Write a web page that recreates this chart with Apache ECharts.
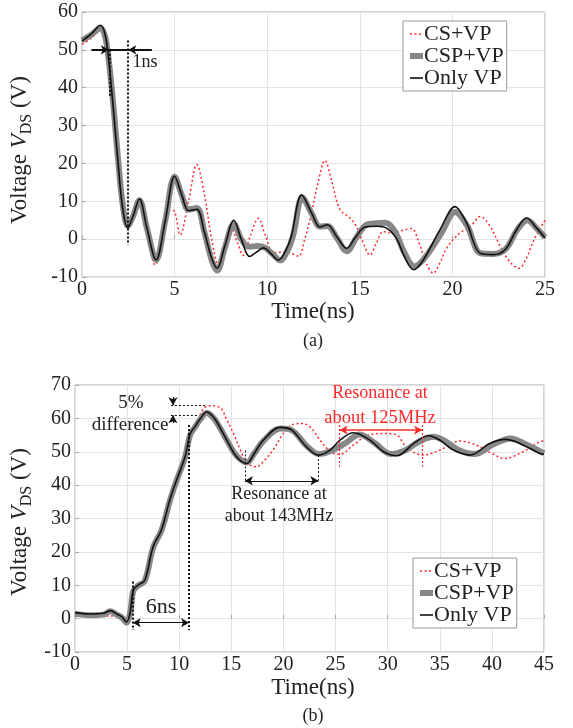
<!DOCTYPE html>
<html><head><meta charset="utf-8">
<script src="https://cdn.jsdelivr.net/npm/echarts@6/dist/echarts.min.js"></script>
<style>html,body{margin:0;padding:0;background:#fff}#c{width:573px;height:728px}</style>
</head><body><div id="c"></div><script>
// Drain-source voltage waveforms: (a) turn-off, (b) turn-on
const seriesNames = ['CS+VP', 'CSP+VP', 'Only VP'];

// (a) turn-off, [time ns, voltage V]
const offCS = [[0,51.5],[0.5,53],[1.05,55.3],[1.3,53],[1.5,46],[1.75,33],[2.0,19],[2.25,8],[2.5,3.5],[2.75,6],[3.1,10],[3.5,2],[3.95,-6.8],[4.4,0.5],[4.75,7.7],[5.0,7.3],[5.3,1.1],[5.75,10],[6.2,19.7],[6.6,12],[7.0,0],[7.35,-6.5],[7.7,-1],[8.05,3],[8.4,-1],[8.7,-4.3],[9.1,1],[9.52,5.5],[9.9,1],[10.35,-3.6],[10.9,-3.4],[11.3,-3.8],[11.7,-4.5],[12.0,-0.5],[12.35,6],[12.75,15],[13.12,20.8],[13.5,15],[13.93,7.8],[14.47,5.6],[14.8,3.5],[15.1,0],[15.55,-4.2],[15.9,-1],[16.27,2],[16.8,1.5],[17.3,2.3],[17.8,2.8],[18.2,-1],[18.6,-6.5],[18.97,-9],[19.3,-6.5],[19.7,-2.3],[20.4,1.6],[21.0,3.5],[21.5,6],[22.03,3.4],[22.6,-2],[23.1,-6],[23.6,-7.7],[24.0,-5],[24.4,-0.2],[25,5]];
const offCSP = [[0,52.5],[0.5,54],[1.0,55.8],[1.25,53.5],[1.45,47],[1.7,35],[1.95,21],[2.2,9],[2.47,3.5],[2.75,6],[3.1,10.3],[3.5,3],[4.0,-5.5],[4.5,5],[5.0,16.5],[5.4,11.5],[5.75,7.8],[6.2,8.2],[6.6,2],[7.0,-5.5],[7.3,-8.3],[7.7,-2.5],[8.2,4],[8.6,0],[9.0,-2],[9.5,-1.8],[9.9,-2.3],[10.3,-4],[10.7,-5.6],[11.1,-3],[11.4,1],[11.9,11],[12.4,6.8],[12.85,3.3],[13.25,3.5],[13.75,0.4],[14.3,-3.2],[14.8,0.3],[15.3,3.6],[15.9,4.2],[16.4,4.3],[16.9,2],[17.4,-3.5],[17.95,-7.2],[18.5,-5],[19.4,1.5],[20.15,7.2],[20.8,3.5],[21.5,-3.7],[22.2,-3.9],[22.9,-2.5],[23.5,2.5],[24.05,5],[24.6,2.6],[25,0.5]];
const offVP = [[0,52.3],[0.5,54.2],[1.0,56.5],[1.25,54],[1.45,47],[1.7,34],[1.95,20],[2.2,8],[2.47,3],[2.75,6],[3.1,10.6],[3.5,3],[4.0,-5.5],[4.5,5],[5.0,16.6],[5.4,11.5],[5.75,7.5],[6.2,7.9],[6.6,2],[7.0,-5],[7.3,-7.7],[7.7,-2],[8.2,5],[8.6,0],[9.05,-4.6],[9.4,-3.5],[9.8,-2.3],[10.2,-3.8],[10.6,-5.5],[11.0,-3],[11.3,0.7],[11.86,11.7],[12.4,6.9],[12.85,3.2],[13.25,3.8],[13.75,0.7],[14.29,-2.4],[14.74,0.3],[15.28,3.2],[15.91,3.4],[16.45,2.9],[17.0,0],[17.4,-4.5],[17.9,-8.1],[18.43,-5.5],[19.33,2.5],[20.14,8.6],[20.77,4.2],[21.49,-3.7],[22.2,-4.1],[22.84,-2.8],[23.47,2.5],[24.0,5.6],[24.55,2.9],[25,0.3]];

// (b) turn-on, [time ns, voltage V]
const onCS = [[0,0.8],[1.5,0.5],[3.0,0.8],[4.0,0.8],[4.6,0.3],[5.0,-0.5],[5.4,2],[5.7,8],[6.2,10],[6.9,11.5],[7.7,21.5],[8.5,26.5],[9.3,35.5],[9.9,41.5],[10.7,48.5],[11.2,55.5],[11.8,59.5],[12.4,63.2],[13.2,63.8],[14.0,63],[14.5,60],[15.2,55.5],[16.15,48.6],[16.8,46],[17.4,45.5],[18.2,47.5],[19.0,50.5],[20.0,55.5],[20.8,58],[21.8,58.5],[22.6,57.3],[23.5,53.5],[24.5,50],[25.4,49.2],[26.7,52],[28.0,54.8],[29.6,55.5],[30.9,55],[31.5,52.5],[32.4,50],[33.4,49],[35.0,50.5],[36.9,53.2],[38.5,52],[40.0,49.5],[41.2,48],[43.0,50],[44.6,53],[45,53.2]];
const onCSP = [[0,1.5],[1.4,1.0],[2.7,1.2],[3.4,2.2],[4.0,1.2],[4.5,0.3],[4.95,-1.2],[5.3,2],[5.6,8.3],[6.1,10],[6.7,11.3],[7.5,21.3],[8.3,26.5],[9.1,35.3],[9.76,41.5],[10.56,48.3],[11.04,55],[11.5,57.3],[12.0,59.6],[12.64,61.6],[13.1,60.8],[13.6,58.8],[14.56,53.5],[15.5,48.8],[16.5,46.8],[17.2,49.5],[18.1,53.3],[19.7,57],[20.8,56.5],[22.2,51.8],[23.4,49.3],[24.6,50.3],[25.9,52.5],[27.3,55.2],[28.8,52.5],[30.3,49.3],[31.6,50.3],[33.0,53],[34.4,54.5],[35.6,53],[36.8,50.5],[38.3,49.3],[40.2,52.3],[41.8,54],[43.2,52.3],[45,49.5]];
const onVP = [[0,1.8],[1.4,1.4],[2.7,1.6],[3.4,2.4],[4.0,1.4],[4.5,0.5],[4.95,-1],[5.3,2],[5.6,8.6],[6.1,10.1],[6.7,11.5],[7.5,21.6],[8.3,26.6],[9.1,35.6],[9.76,41.6],[10.56,48.5],[11.04,55.3],[11.5,57.5],[12.0,59.8],[12.64,61.9],[13.1,61],[13.6,59],[14.56,53.5],[15.5,48.5],[16.48,46.5],[17.2,49.5],[18.07,53.5],[19.67,57.3],[20.8,56.5],[22.2,51.5],[23.35,49],[24.47,50.5],[25.43,53.5],[26.7,55.7],[28.3,53.5],[29.6,50],[30.9,48.8],[32.5,52.5],[33.9,54.8],[35.0,53.5],[36.3,50.5],[37.9,49],[39.8,52.5],[41.3,53.7],[42.7,52.5],[44.6,49.5],[45,49.3]];

// axis ranges and ticks
const offTimeMax = 25, onTimeMax = 45, timeStep = 5;
const offVMin = -10, offVMax = 60, onVMin = -10, onVMax = 70, vStep = 10;

const FONT = 'Liberation Serif';
const INK = '#222';
const RED = '#ff2a2a';
const GREY = '#878787';
const AXIS = '#a8a8a8';

function xAxis(gi, max) {
  return {
    type: 'value', gridIndex: gi, min: 0, max: max, interval: timeStep,
    axisLine: { show: false },
    axisTick: { inside: true, length: 4, lineStyle: { color: AXIS } },
    splitLine: { show: true, lineStyle: { color: '#e4e4e4', width: 1 } },
    axisLabel: { fontFamily: FONT, fontSize: 20, color: INK, margin: 3, showMinLabel: true, showMaxLabel: true }
  };
}
function yAxis(gi, min, max) {
  return {
    type: 'value', gridIndex: gi, min: min, max: max, interval: vStep,
    axisLine: { show: false },
    axisTick: { inside: true, length: 4, lineStyle: { color: AXIS } },
    splitLine: { show: true, lineStyle: { color: '#e4e4e4', width: 1 } },
    axisLabel: { fontFamily: FONT, fontSize: 20, color: INK, margin: 4, showMinLabel: true, showMaxLabel: true }
  };
}

function trio(gi, cs, csp, vp) {
  return [
    { name: seriesNames[0], type: 'line', xAxisIndex: gi, yAxisIndex: gi, data: cs, smooth: 0.35, showSymbol: false, symbol: 'none',
      lineStyle: { color: RED, width: 1.5, type: [2, 2.5] }, itemStyle: { color: RED }, z: 2 },
    { name: seriesNames[1], type: 'line', xAxisIndex: gi, yAxisIndex: gi, data: csp, smooth: 0.35, showSymbol: false, symbol: 'none',
      lineStyle: { color: GREY, width: 6 }, itemStyle: { color: GREY }, z: 3 },
    { name: seriesNames[2], type: 'line', xAxisIndex: gi, yAxisIndex: gi, data: vp, smooth: 0.35, showSymbol: false, symbol: 'none',
      lineStyle: { color: '#111', width: 1.6 }, itemStyle: { color: '#111' }, z: 4 }
  ];
}

// annotation segment helper: [t0,v0] -> [t1,v1]
function seg(a, b, style, startSym, endSym) {
  return [
    { coord: a, symbol: startSym || 'none', lineStyle: style },
    { coord: b, symbol: endSym || 'none' }
  ];
}
const dotBlack = { color: '#111', width: 2, type: [2, 2] };
const dotThin = { color: '#111', width: 1, type: [2, 2] };
const solidBlack = { color: '#111', width: 2, type: 'solid' };
const thinBlack = { color: '#111', width: 1.2, type: 'solid' };
const dotRed = { color: RED, width: 1.2, type: [2, 2] };
const solidRed = { color: RED, width: 1.5, type: 'solid' };

function notes(gi, lines) {
  return {
    type: 'line', xAxisIndex: gi, yAxisIndex: gi, data: [], silent: true, z: 6,
    markLine: { silent: true, animation: false, symbolSize: [7, 8], label: { show: false }, data: lines }
  };
}

const offNotes = notes(0, [
  seg([0.52, 50], [3.76, 50], solidBlack),
  seg([0.52, 50], [1.45, 50], solidBlack, 'none', 'arrow'),
  seg([3.76, 50], [2.5, 50], solidBlack, 'none', 'arrow'),
  seg([1.48, 50], [1.48, 37.7], dotBlack),
  seg([2.47, 52.5], [2.47, -1.5], dotBlack)
]);

const onNotes = notes(1, [
  seg([9.2, 63.8], [12.5, 63.8], dotThin),
  seg([9.2, 61.0], [11.7, 61.0], dotThin),
  seg([9.4, 66.4], [9.4, 63.9], thinBlack, 'none', 'arrow'),
  seg([9.4, 58.6], [9.4, 60.9], thinBlack, 'none', 'arrow'),
  seg([5.54, 11.1], [5.54, -3.4], dotBlack),
  seg([10.94, 58], [10.94, -3.4], dotBlack),
  seg([5.54, -1.2], [10.94, -1.2], thinBlack, 'arrow', 'arrow'),
  seg([16.3, 50.4], [16.3, 41.3], dotThin),
  seg([23.35, 49], [23.35, 41.3], dotThin),
  seg([16.3, 41.3], [23.35, 41.3], thinBlack, 'arrow', 'arrow'),
  seg([25.4, 58], [25.4, 45.5], dotRed),
  seg([33.3, 58], [33.3, 45.5], dotRed),
  seg([25.4, 56.5], [33.3, 56.5], solidRed, 'arrow', 'arrow')
]);

function legend(left, top) {
  return {
    left: left, top: top, orient: 'vertical',
    data: [
      { name: seriesNames[0], lineStyle: { width: 1.5 } },
      { name: seriesNames[1], lineStyle: { width: 6 } },
      { name: seriesNames[2], lineStyle: { width: 1.6 } }
    ],
    itemWidth: 13, itemHeight: 19, itemGap: 0,
    padding: [2, 3, 2, 4],
    backgroundColor: '#fff', borderColor: '#9a9a9a', borderWidth: 1,
    selectedMode: false,
    itemStyle: { opacity: 0, borderWidth: 0 },
    textStyle: { fontFamily: FONT, fontSize: 22, color: INK, padding: [0, 0, 0, -4], lineHeight: 20 }
  };
}

function txt(x, y, s, size, color) {
  return {
    type: 'text', x: x, y: y, silent: true, z: 20,
    style: { text: s, fontFamily: FONT, fontSize: size, fill: color || INK, align: 'center', verticalAlign: 'middle' }
  };
}
function vLabel(x, y) {
  return {
    type: 'text', x: x, y: y, rotation: Math.PI / 2, silent: true, z: 20,
    style: {
      text: '{n|Voltage }{i|V}{s|DS}{n| (V)}',
      align: 'center', verticalAlign: 'middle',
      rich: {
        n: { fontFamily: FONT, fontSize: 23, fill: INK },
        i: { fontFamily: FONT, fontSize: 23, fontStyle: 'italic', fill: INK },
        s: { fontFamily: FONT, fontSize: 16, fill: INK, padding: [13, 0, 0, 0] }
      }
    }
  };
}

const chart = echarts.init(document.getElementById('c'), null, { renderer: 'canvas' });
chart.setOption({
  animation: false,
  backgroundColor: '#fff',
  grid: [
    { left: 82, top: 12, width: 463, height: 265, show: true, borderColor: AXIS, borderWidth: 1, backgroundColor: 'transparent' },
    { left: 75, top: 385, width: 469, height: 267, show: true, borderColor: AXIS, borderWidth: 1, backgroundColor: 'transparent' }
  ],
  xAxis: [xAxis(0, offTimeMax), xAxis(1, onTimeMax)],
  yAxis: [yAxis(0, offVMin, offVMax), yAxis(1, onVMin, onVMax)],
  legend: [legend(403, 21), legend(413, 558)],
  series: [].concat(trio(0, offCS, offCSP, offVP), [offNotes], trio(1, onCS, onCSP, onVP), [onNotes]),
  graphic: [
    vLabel(20, 150),
    vLabel(20, 522),
    txt(313, 312, 'Time(ns)', 23),
    txt(313, 341, '(a)', 18),
    txt(313, 688, 'Time(ns)', 23),
    txt(313, 716, '(b)', 18),
    txt(145, 62, '1ns', 18),
    txt(131, 403, '5%', 19),
    txt(130, 425, 'difference', 19),
    txt(161, 607, '6ns', 22),
    txt(279, 494, 'Resonance at', 18),
    txt(279, 516, 'about 143MHz', 18),
    txt(380, 393, 'Resonance at', 18, RED),
    txt(380, 418, 'about 125MHz', 18.5, RED)
  ]
});
</script></body></html>
